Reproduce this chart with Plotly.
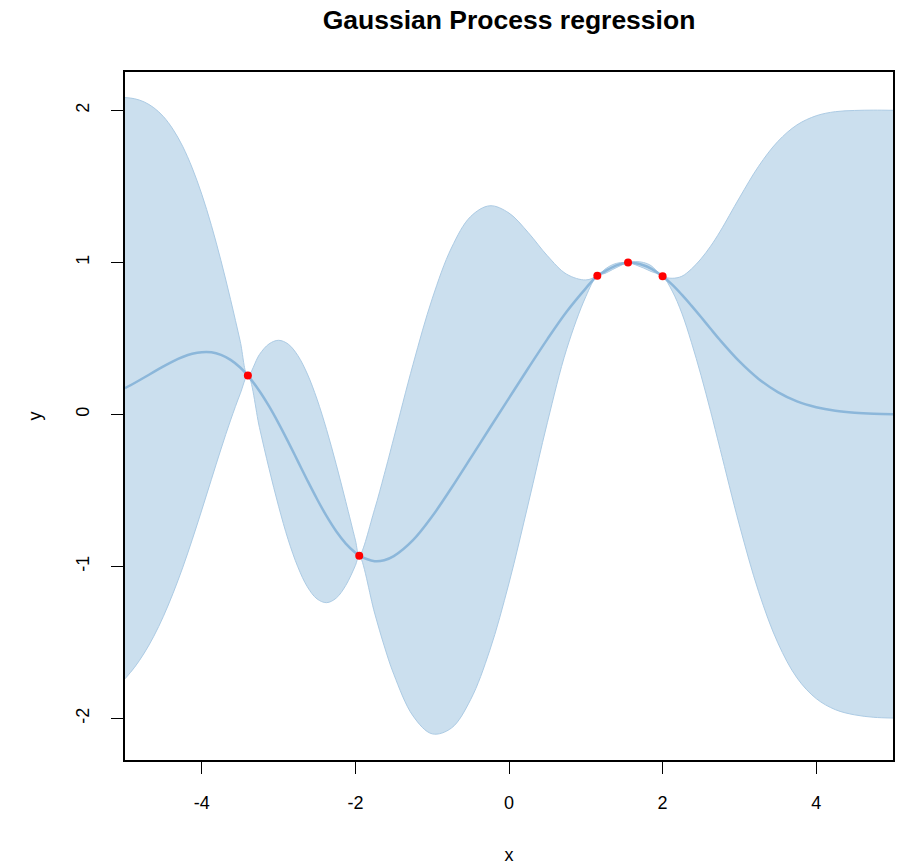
import plotly.graph_objects as go

# ---- data ----
x_grid = [-5, -4.875, -4.75, -4.625, -4.5, -4.375, -4.25, -4.125, -4, -3.875, -3.75, -3.625,
          -3.5, -3.4, -3.25, -3.125, -3, -2.875, -2.75, -2.625, -2.5, -2.375, -2.25, -2.125,
          -2, -1.95, -1.75, -1.625, -1.5, -1.25, -1, -0.75, -0.5, -0.25, 0, 0.25, 0.5, 0.75,
          1.0, 1.15, 1.25, 1.35, 1.45, 1.55, 1.65, 1.75, 1.85, 2.0, 2.125, 2.25, 2.375, 2.5,
          2.625, 2.75, 3, 3.25, 3.5, 3.75, 4, 4.25, 4.5, 4.75, 5]

mean_vals = [0.173, 0.207, 0.243, 0.280, 0.316, 0.350, 0.378, 0.399, 0.410, 0.409, 0.392, 0.359,
             0.309, 0.256, 0.155, 0.055, -0.058, -0.180, -0.307, -0.434, -0.556, -0.669, -0.768,
             -0.849, -0.910, -0.929, -0.965, -0.959, -0.932, -0.827, -0.670, -0.484, -0.287,
             -0.089, 0.108, 0.304, 0.496, 0.676, 0.830, 0.913, 0.942, 0.970, 0.989, 1.000,
             0.995, 0.982, 0.960, 0.909, 0.854, 0.788, 0.716, 0.641, 0.564, 0.488, 0.349,
             0.234, 0.147, 0.086, 0.048, 0.025, 0.012, 0.005, 0.002]

upper_vals = [2.085, 2.077, 2.056, 2.018, 1.960, 1.876, 1.765, 1.622, 1.448, 1.244, 1.011, 0.755,
              0.482, 0.256, 0.394, 0.464, 0.488, 0.463, 0.388, 0.266, 0.101, -0.100, -0.328,
              -0.574, -0.827, -0.929, -0.624, -0.396, -0.155, 0.329, 0.761, 1.095, 1.302,
              1.373, 1.325, 1.197, 1.044, 0.923, 0.885, 0.913, 0.956, 0.986, 0.999, 1.000,
              1.006, 1.000, 0.979, 0.909, 0.896, 0.909, 0.957, 1.024, 1.107, 1.205, 1.425,
              1.633, 1.796, 1.905, 1.965, 1.992, 2.000, 2.002, 2.001]

lower_vals = [-1.739, -1.663, -1.570, -1.459, -1.328, -1.177, -1.009, -0.824, -0.628, -0.427,
              -0.227, -0.037, 0.136, 0.256, -0.084, -0.355, -0.604, -0.824, -1.002, -1.134,
              -1.213, -1.238, -1.208, -1.124, -0.993, -0.929, -1.306, -1.522, -1.709, -1.983,
              -2.101, -2.063, -1.876, -1.551, -1.109, -0.589, -0.052, 0.429, 0.775, 0.913,
              0.928, 0.954, 0.979, 1.000, 0.984, 0.964, 0.941, 0.909, 0.812, 0.667, 0.475,
              0.258, 0.021, -0.229, -0.727, -1.165, -1.502, -1.733, -1.869, -1.942, -1.976,
              -1.992, -1.997]

obs_x = [-3.4, -1.95, 1.15, 1.55, 2.0]
obs_y = [0.256, -0.929, 0.913, 1.000, 0.909]

x_ticks = [-4, -2, 0, 2, 4]
y_ticks = [-2, -1, 0, 1, 2]

# ---- styling ----
FONT = "Liberation Sans, Arial, Helvetica, sans-serif"
band_fill = "rgba(203,223,238,1)"
band_edge = "rgb(172,203,228)"
mean_col = "rgb(140,183,218)"

fig = go.Figure()
fig.add_trace(go.Scatter(x=x_grid, y=lower_vals, mode="lines",
                         line=dict(color=band_edge, width=1, shape="spline", smoothing=1.0),
                         showlegend=False, hoverinfo="skip"))
fig.add_trace(go.Scatter(x=x_grid, y=upper_vals, mode="lines", fill="tonexty",
                         fillcolor=band_fill,
                         line=dict(color=band_edge, width=1, shape="spline", smoothing=1.0),
                         showlegend=False, hoverinfo="skip"))
fig.add_trace(go.Scatter(x=x_grid, y=mean_vals, mode="lines",
                         line=dict(color=mean_col, width=2.5, shape="spline", smoothing=1.0),
                         showlegend=False))
fig.add_trace(go.Scatter(x=obs_x, y=obs_y, mode="markers",
                         marker=dict(color="red", size=8, line=dict(width=0)),
                         showlegend=False))

axis_common = dict(showgrid=False, zeroline=False, showline=True, mirror=True,
                   linecolor="black", linewidth=1.5, ticks="outside", ticklen=12,
                   tickwidth=1, tickcolor="black",
                   tickfont=dict(family=FONT, size=18, color="black"))

fig.update_layout(
    width=900, height=867,
    margin=dict(l=125, r=5, t=72, b=103),
    paper_bgcolor="white", plot_bgcolor="white",
    title=dict(text="<b>Gaussian Process regression</b>", xref="paper", x=0.5,
               xanchor="center", yref="container", y=1 - 20 / 867, yanchor="middle",
               font=dict(family=FONT, size=26.5, color="black")),
    xaxis=dict(range=[-5, 5], tickvals=x_ticks, ticktext=[str(v) for v in x_ticks],
               ticklabelstandoff=14,
               title=dict(text="x", standoff=36, font=dict(family=FONT, size=18, color="black")),
               **axis_common),
    yaxis=dict(range=[-2.273, 2.253], tickvals=y_ticks, ticktext=[str(v) for v in y_ticks],
               tickangle=-90, ticklabelstandoff=15,
               title=dict(text="y", standoff=27, font=dict(family=FONT, size=18, color="black")),
               **axis_common),
)

fig.write_html("out.html")
